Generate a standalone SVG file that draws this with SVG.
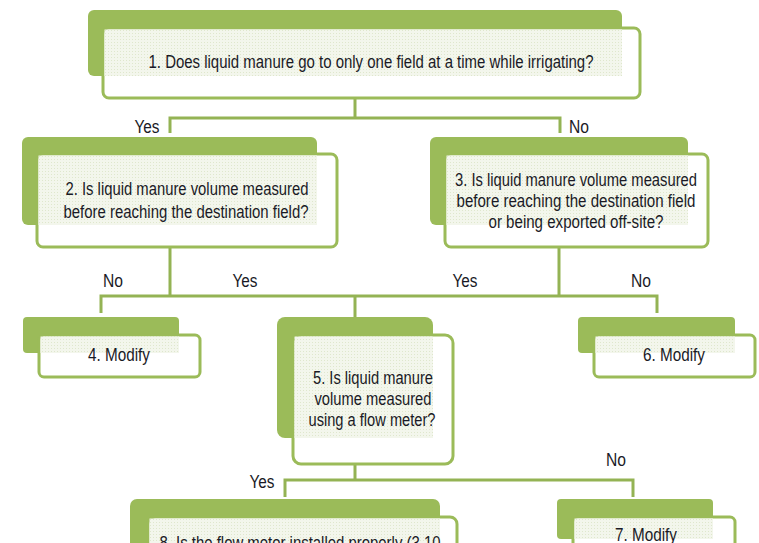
<svg xmlns="http://www.w3.org/2000/svg" width="759" height="543" viewBox="0 0 759 543">
<defs>
<pattern id="dots" width="3" height="3" patternUnits="userSpaceOnUse">
<rect width="3" height="3" fill="#f3f6ec"/>
<rect width="1" height="1" fill="#dfe7cd"/>
</pattern>
<style>
.back{fill:#9bbb59;}
.front{fill:#ffffff;stroke:#9bbb59;stroke-width:3;}
.tex{fill:url(#dots);}
.t{font-family:"Liberation Sans",Arial,sans-serif;font-size:17.5px;fill:#1a1a26;text-anchor:middle;}
.lbl{font-family:"Liberation Sans",Arial,sans-serif;font-size:17.5px;fill:#1a1a26;text-anchor:middle;}
.c{fill:none;stroke:#94b354;stroke-width:3;}
</style>
</defs>
<rect width="759" height="543" fill="#ffffff"/>
<g id="connectors">
<path class="c" d="M355 98 V118 M170 133 V118 H560 V133"/>
<path class="c" d="M170 247 V296 M559 247 V296 M101 313 V296 H657 V313 M355 296 V317"/>
<path class="c" d="M355 464 V480 M285 497 V480 H633 V497"/>
<text class="lbl" x="147" y="133" textLength="25" lengthAdjust="spacingAndGlyphs">Yes</text>
<text class="lbl" x="579" y="133" textLength="20" lengthAdjust="spacingAndGlyphs">No</text>
<text class="lbl" x="113" y="287" textLength="20" lengthAdjust="spacingAndGlyphs">No</text>
<text class="lbl" x="245" y="287" textLength="25" lengthAdjust="spacingAndGlyphs">Yes</text>
<text class="lbl" x="465" y="287" textLength="25" lengthAdjust="spacingAndGlyphs">Yes</text>
<text class="lbl" x="641" y="287" textLength="20" lengthAdjust="spacingAndGlyphs">No</text>
<text class="lbl" x="262" y="488" textLength="25" lengthAdjust="spacingAndGlyphs">Yes</text>
<text class="lbl" x="616" y="466" textLength="20" lengthAdjust="spacingAndGlyphs">No</text>
</g>
<g id="node1">
<rect class="back" x="88" y="10" width="534" height="66" rx="6"/>
<rect class="front" x="103" y="28" width="537" height="70" rx="6"/>
<rect class="tex" x="104.5" y="29.5" width="517.5" height="46.5"/>
<text class="t" x="371" y="68" textLength="445" lengthAdjust="spacingAndGlyphs">1. Does liquid manure go to only one field at a time while irrigating?</text>
</g>
<g id="node2">
<rect class="back" x="22" y="137" width="295" height="88" rx="6"/>
<rect class="front" x="37" y="154" width="300" height="93" rx="6"/>
<rect class="tex" x="38.5" y="155.5" width="278.5" height="69.5"/>
<text class="t" x="187" y="195" textLength="243" lengthAdjust="spacingAndGlyphs">2. Is liquid manure volume measured</text>
<text class="t" x="186" y="218" textLength="245" lengthAdjust="spacingAndGlyphs">before reaching the destination field?</text>
</g>
<g id="node3">
<rect class="back" x="430" y="137" width="258" height="88" rx="6"/>
<rect class="front" x="445" y="154" width="263" height="93" rx="6"/>
<rect class="tex" x="446.5" y="155.5" width="241.5" height="69.5"/>
<text class="t" x="576" y="186" textLength="242" lengthAdjust="spacingAndGlyphs">3. Is liquid manure volume measured</text>
<text class="t" x="576" y="207" textLength="239" lengthAdjust="spacingAndGlyphs">before reaching the destination field</text>
<text class="t" x="576" y="228" textLength="175" lengthAdjust="spacingAndGlyphs">or being exported off-site?</text>
</g>
<g id="node4">
<rect class="back" x="23" y="317" width="156" height="36" rx="4"/>
<rect class="front" x="39" y="335" width="161" height="42" rx="5"/>
<rect class="tex" x="40.5" y="336.5" width="138.5" height="16.5"/>
<text class="t" x="119" y="361" textLength="62" lengthAdjust="spacingAndGlyphs">4. Modify</text>
</g>
<g id="node5">
<rect class="back" x="277" y="317" width="156" height="121" rx="8"/>
<rect class="front" x="293" y="335" width="160" height="129" rx="8"/>
<rect class="tex" x="294.5" y="336.5" width="138.5" height="101.5"/>
<text class="t" x="373" y="384" textLength="120" lengthAdjust="spacingAndGlyphs">5. Is liquid manure</text>
<text class="t" x="373" y="405" textLength="117" lengthAdjust="spacingAndGlyphs">volume measured</text>
<text class="t" x="372" y="426" textLength="127" lengthAdjust="spacingAndGlyphs">using a flow meter?</text>
</g>
<g id="node6">
<rect class="back" x="578" y="317" width="157" height="36" rx="4"/>
<rect class="front" x="594" y="335" width="161" height="42" rx="5"/>
<rect class="tex" x="595.5" y="336.5" width="139.5" height="16.5"/>
<text class="t" x="674" y="361" textLength="62" lengthAdjust="spacingAndGlyphs">6. Modify</text>
</g>
<g id="node8">
<rect class="back" x="130" y="499" width="310" height="60" rx="7"/>
<rect class="front" x="148" y="517" width="309" height="60" rx="7"/>
<rect class="tex" x="149.5" y="518.5" width="290.5" height="40"/>
<text class="t" x="300" y="549" textLength="281" lengthAdjust="spacingAndGlyphs">8. Is the flow meter installed properly (3.10</text>
</g>
<g id="node7">
<rect class="back" x="557" y="499" width="156" height="40" rx="4"/>
<rect class="front" x="573" y="517" width="162" height="42" rx="5"/>
<rect class="tex" x="574.5" y="518.5" width="138.5" height="20.5"/>
<text class="t" x="646" y="541" textLength="62" lengthAdjust="spacingAndGlyphs">7. Modify</text>
</g>
</svg>
